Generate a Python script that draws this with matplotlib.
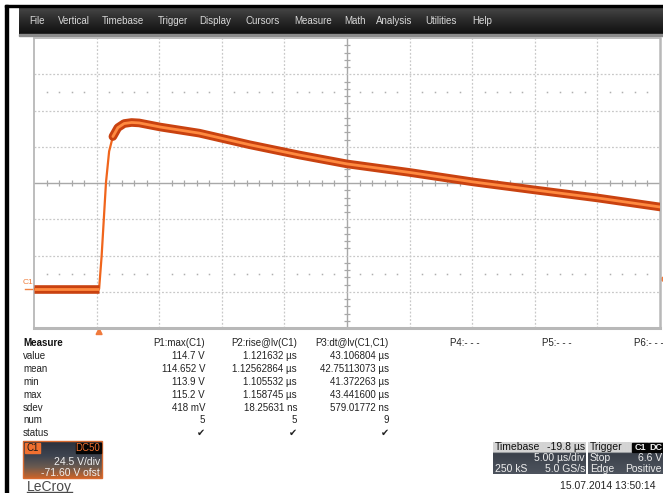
import numpy as np
import matplotlib
matplotlib.use("Agg")
import matplotlib.pyplot as plt
from matplotlib.patches import Rectangle, Polygon

# ---------------- data ----------------
time_us = [-5.2, 0.0, 0.2, 0.55, 0.8, 1.1, 1.5, 2.0, 2.6, 3.2, 4.9, 8.0,
           12.0, 16.0, 19.8, 24.75, 29.9, 34.8, 39.8, 44.8]
volts = [0.0, 0.0, 22.0, 72.0, 93.0, 103.0, 109.0, 111.8, 112.5, 112.2, 109.4, 105.3,
         97.5, 90.5, 84.5, 78.8, 72.3, 66.9, 61.5, 55.4]

t_div = 5.0          # us/div
v_div = 24.5         # V/div
v_offset = -71.60    # V
t_delay = -19.8      # us
trig_level = 6.6     # V

menu_items = ["File", "Vertical", "Timebase", "Trigger", "Display", "Cursors",
              "Measure", "Math", "Analysis", "Utilities", "Help"]
menu_x = [29, 58, 102, 158, 199, 246, 294, 344, 376, 425, 472]

row_labels = ["value", "mean", "min", "max", "sdev", "num", "status"]
param_headers = ["P1:max(C1)", "P2:rise@lv(C1)", "P3:dt@lv(C1,C1)", "P4:- - -", "P5:- - -", "P6:- - -"]
p1_values = ["114.7 V", "114.652 V", "113.9 V", "115.2 V", "418 mV", "5", "\u2714"]
p2_values = ["1.121632 \u00b5s", "1.12562864 \u00b5s", "1.105532 \u00b5s", "1.158745 \u00b5s",
             "18.25631 ns", "5", "\u2714"]
p3_values = ["43.106804 \u00b5s", "42.75113073 \u00b5s", "41.372263 \u00b5s", "43.441600 \u00b5s",
             "579.01772 ns", "9", "\u2714"]

W, H = 663, 493
plt.rcParams['font.family'] = ['Liberation Sans', 'DejaVu Sans']

fig = plt.figure(figsize=(W / 100, H / 100), dpi=100)
fig.patch.set_facecolor('white')

# ---------------- overlay (pixel coords) ----------------
ov = fig.add_axes([0, 0, 1, 1], zorder=0)
ov.set_axis_off()

def grad_box(x0, x1, y0, y1, colors, positions=None):
    n = 64
    if positions is None:
        positions = np.linspace(0, 1, len(colors))
    rgb = np.array([matplotlib.colors.to_rgb(c) for c in colors])
    s = np.linspace(0, 1, n)
    arr = np.stack([np.interp(s, positions, rgb[:, i]) for i in range(3)], axis=-1)
    arr = arr[:, None, :]
    ov.imshow(arr, extent=(x0, x1, y1, y0), origin='upper', aspect='auto',
              interpolation='bilinear', zorder=1)

# screen border
ov.add_patch(Rectangle((5, 5), 3, H - 5, color='black', zorder=2))
ov.add_patch(Rectangle((5, 5), W - 5, 1.5, color='black', zorder=2))
# menu bar
grad_box(19, W, 6.5, 34, ['#4a4a4a', '#2a2a2a', '#101010'])
ov.add_patch(Rectangle((19, 34), W - 19, 1.5, color='#8a8a8a', zorder=2))
for name, x in zip(menu_items, menu_x):
    ov.text(x, 21, name, fontsize=7, color='#d8d8d8', va='center', ha='left', zorder=3)

# measure table
rows_y = [356, 369, 382, 395, 408, 420, 433]
ov.text(23, 343, "Measure", fontsize=7, fontweight='bold', color='#111111', va='center', zorder=3)
col_right = [205, 297, 389, 480, 572, 664]
for h, xr in zip(param_headers, col_right):
    ov.text(xr, 343, h, fontsize=7, color='#222222', va='center', ha='right', zorder=3)
for i, lab in enumerate(row_labels):
    ov.text(23, rows_y[i], lab, fontsize=7, color='#222222', va='center', zorder=3)
    for vals, xr in zip([p1_values, p2_values, p3_values], col_right[:3]):
        ov.text(xr, rows_y[i], vals[i], fontsize=7, color='#222222', va='center', ha='right',
                zorder=3, family=['DejaVu Sans'] if vals[i] == "\u2714" else ['Liberation Sans', 'DejaVu Sans'])

# C1 channel box
grad_box(23, 102, 441, 478, ['#2a303c', '#3e4450', '#6a5a50', '#c8642a'], [0, 0.4, 0.7, 1])
ov.add_patch(Rectangle((23, 441), 79, 37, fill=False, ec='#d86a30', lw=1, zorder=2))
ov.add_patch(Rectangle((25, 443), 15, 10, color='#f07030', zorder=3))
ov.text(32.5, 448, "C1", fontsize=7, color='#1a1a1a', ha='center', va='center', zorder=4)
ov.add_patch(Rectangle((76, 443), 25, 10, color='#050505', zorder=3))
ov.text(100, 448, "DC50", fontsize=7, color='#f07030', ha='right', va='center', zorder=4)
ov.text(100, 462, "%.1f V/div" % v_div, fontsize=7.5, color='#f0f0f0', ha='right', va='center', zorder=4)
ov.text(100, 473, "%.2f V ofst" % v_offset, fontsize=7.5, color='#f0f0f0', ha='right', va='center', zorder=4)

# LeCroy logo
ov.text(27, 487, "LeCroy", fontsize=10, color='#4a4a4a', ha='left', va='center', zorder=3)
ov.plot([27, 72], [492, 492], color='#4a4a4a', lw=1, zorder=3)

# Timebase box
grad_box(493, 586, 442, 474, ['#d4d4d4', '#d4d4d4', '#3a404a', '#4e545e'], [0, 0.32, 0.34, 1])
ov.text(495, 447, "Timebase", fontsize=7.5, color='#111111', va='center', zorder=4)
ov.text(585, 447, "%.1f \u00b5s" % t_delay, fontsize=7.5, color='#111111', va='center', ha='right', zorder=4)
ov.text(585, 458, "%.2f \u00b5s/div" % t_div, fontsize=7.5, color='#eeeeee', va='center', ha='right', zorder=4)
ov.text(495, 468.5, "250 kS", fontsize=7.5, color='#eeeeee', va='center', zorder=4)
ov.text(585, 468.5, "5.0 GS/s", fontsize=7.5, color='#eeeeee', va='center', ha='right', zorder=4)

# Trigger box
grad_box(588, W, 442, 474, ['#d4d4d4', '#d4d4d4', '#3a404a', '#4e545e'], [0, 0.32, 0.34, 1])
ov.text(590, 447, "Trigger", fontsize=7.5, color='#111111', va='center', zorder=4)
ov.add_patch(Rectangle((632, 443), 16, 9, color='#050505', zorder=3))
ov.text(640, 447.5, "C1", fontsize=6.5, color='#f0f0f0', fontweight='bold', va='center', ha='center', zorder=4)
ov.add_patch(Rectangle((649, 443), 14, 9, color='#050505', zorder=3))
ov.text(656, 447.5, "DC", fontsize=6.5, color='#f0f0f0', fontweight='bold', va='center', ha='center', zorder=4)
ov.text(590, 458, "Stop", fontsize=7.5, color='#eeeeee', va='center', zorder=4)
ov.text(662, 458, "%.1f V" % trig_level, fontsize=7.5, color='#eeeeee', va='center', ha='right', zorder=4)
ov.text(590, 468.5, "Edge", fontsize=7.5, color='#eeeeee', va='center', zorder=4)
ov.text(662, 468.5, "Positive", fontsize=7.5, color='#eeeeee', va='center', ha='right', zorder=4)

# date
ov.text(655, 486, "15.07.2014 13:50:14", fontsize=7.5, color='#222222', va='center', ha='right', zorder=3)

ov.set_xlim(0, W)
ov.set_ylim(H, 0)

# ---------------- main scope grid ----------------
x_center = -t_delay
y_center = -v_offset
xmin, xmax = x_center - 5 * t_div, x_center + 5 * t_div
ymin, ymax = y_center - 4 * v_div, y_center + 4 * v_div

ax = fig.add_axes([34 / W, 1 - 328 / H, 626 / W, 290 / H], zorder=1)
ax.set_facecolor('white')
ax.set_xlim(xmin, xmax)
ax.set_ylim(ymin, ymax)
ax.set_xticks([])
ax.set_yticks([])
for s in ax.spines.values():
    s.set_color('#b8b8b8')
    s.set_linewidth(1.3)
ax.spines['bottom'].set_linewidth(2.2)
ax.spines['right'].set_linewidth(1.8)

grid_kw = dict(color='#c8c8c8', lw=0.9, ls=(0, (1.5, 1.5)), zorder=1)
for k in range(1, 10):
    xv = xmin + k * t_div
    if k == 5:
        ax.axvline(xv, color='#a8a8a8', lw=1.0, zorder=1)
    else:
        ax.axvline(xv, **grid_kw)
for k in range(1, 8):
    yv = ymin + k * v_div
    if k == 4:
        ax.axhline(yv, color='#a8a8a8', lw=1.0, zorder=1)
    else:
        ax.axhline(yv, **grid_kw)

# minor ticks along center axes and dot rows
jx = np.arange(1, 50)
jx = jx[jx % 5 != 0]
xt = xmin + jx * t_div / 5
ax.plot(xt, np.full_like(xt, y_center), ls='none', marker='|', ms=5, mew=0.9, color='#a8a8a8', zorder=1)
for yy in (y_center + 2.5 * v_div, y_center - 2.5 * v_div):
    ax.plot(xt, np.full_like(xt, yy), ls='none', marker='s', ms=1.1, mew=0, color='#b0b0b0', zorder=1)
jy = np.arange(1, 40)
jy = jy[jy % 5 != 0]
yt = ymin + jy * v_div / 5
ax.plot(np.full_like(yt, x_center), yt, ls='none', marker='_', ms=5, mew=0.9, color='#a8a8a8', zorder=1)

# trace
t = np.array(time_us)
v = np.array(volts)
ax.plot(t, v, color='#F0651C', lw=1.6, zorder=3, solid_capstyle='butt')
ax.plot(t[:2], v[:2], color='#C94210', lw=6.2, zorder=3, solid_capstyle='butt')
ax.plot(t[5:], v[5:], color='#C94210', lw=6.2, zorder=3, solid_capstyle='round')
ax.plot(t[:2], v[:2], color='#FF8A40', lw=2.0, zorder=4, solid_capstyle='butt')
ax.plot(t[5:], v[5:], color='#FF8A40', lw=2.0, zorder=4, solid_capstyle='round')

# markers outside grid (overlay, in data -> pixel via transforms)
def data_to_px(xd, yd):
    disp = ax.transData.transform((xd, yd))
    return ov.transData.inverted().transform(disp)

px0, py0 = data_to_px(0.0, 0.0)
ov.text(23, 282.5, "C1", fontsize=6, color='#f08040', va='center', ha='left', zorder=3)
ov.plot([25, 33], [py0, py0], color='#f08040', lw=1, zorder=3)
ov.add_patch(Polygon([[px0 - 3, 334.5], [px0 + 3, 334.5], [px0, 328.5]], closed=True,
                     color='#f07a3c', zorder=3))
_, pyt = data_to_px(xmax, trig_level)
ov.add_patch(Polygon([[W - 3, pyt], [W, pyt - 2], [W, pyt + 2]], closed=True, color='#f07a3c', zorder=3))

fig.savefig("out.png", dpi=100, facecolor='white')
